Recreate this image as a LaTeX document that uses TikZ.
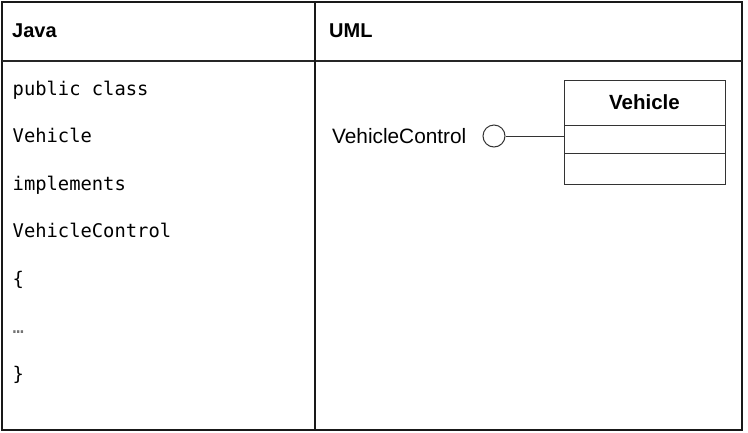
\documentclass[tikz,border=0pt]{standalone}
\usepackage{fontspec}
\setmainfont{Liberation Sans}
\newfontfamily\codefont{DejaVu Sans Mono}
\usetikzlibrary{positioning}

\tikzset{
  head/.style = {anchor = base west, inner sep = 0pt, font = \fontsize{20}{24}\selectfont\bfseries},
  code/.style = {anchor = base west, inner sep = 0pt, font = \fontsize{18.8}{22}\codefont},
  compart/.style = {draw = black!80, line width = 1pt, minimum width = 161pt, inner sep = 0pt, outer sep = 0pt},
}

\begin{document}
\begin{tikzpicture}[x = 1pt, y = -1pt]
          \useasboundingbox (0,0) rectangle (748,432);

          % table
          \draw[line width = 2.4pt, black!90] (2,2) rectangle (742,430);
          \draw[line width = 1.3pt, black!85] (2,61) -- (742,61);
          \draw[line width = 2.4pt, black!90] (315,2) -- (315,430);

          \node[head] at ( 12, 37.5) (java) {Java};
          \node[head] at (329, 37.5) (uml)  {UML};

          % java source
          \node[code] at (12.5,  95  ) (c1) {public class};
          \node[code] at (12.5, 142.6) (c2) {Vehicle};
          \node[code] at (12.5, 190.2) (c3) {implements};
          \node[code] at (12.5, 237.8) (c4) {VehicleControl};
          \node[code] at (12.5, 285.4) (c5) {\{};
          \node[code, black!55] at (12.5, 333) (c6) {…};
          \node[code] at (12.5, 380.6) (c7) {\}};

          % uml
          \node[compart, minimum height = 45pt, font = \fontsize{20.5}{24}\selectfont\bfseries] at (644.5, 102.5) (vname) {Vehicle};
          \node[compart, minimum height = 28pt, below = 0pt of vname] (vattr) {};
          \node[compart, minimum height = 31pt, below = 0pt of vattr] (vops)  {};

          \node[draw = black!80, line width = 1pt, circle, minimum size = 22pt, inner sep = 0pt] at (494,136) (iface) {};
          \node[inner sep = 0pt, left = 16pt of iface, font = \fontsize{20.8}{24}\selectfont] (ilabel) {VehicleControl};

          \draw[line width = 1pt, black!80] (iface.east) -- (iface.east -| vattr.west);
        \end{tikzpicture}
\end{document}
